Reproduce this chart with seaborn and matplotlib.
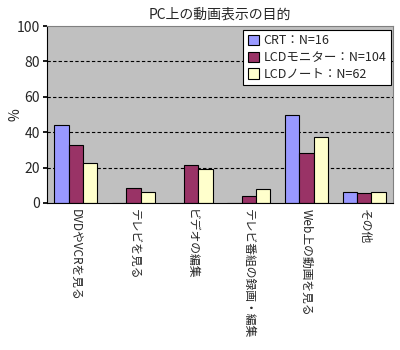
import matplotlib
matplotlib.use("Agg")
import matplotlib.pyplot as plt
import seaborn as sns
import pandas as pd

categories = ["DVDやVCRを見る", "テレビを見る", "ビデオの編集", "テレビ番組の録画・編集", "Web上の動画を見る", "その他"]
series = ["CRT：N=16", "LCDモニター：N=104", "LCDノート：N=62"]
crt = [44, 0, 0, 0, 50, 6.2]
lcd_monitor = [32.6, 8.4, 21.4, 3.9, 28.1, 5.6]
lcd_note = [22.5, 6.2, 19.1, 7.9, 37.1, 6.2]
yticks = [0, 20, 40, 60, 80, 100]

rows = []
for s, vals in zip(series, [crt, lcd_monitor, lcd_note]):
    for c, v in zip(categories, vals):
        rows.append({"cat": c, "series": s, "value": v})
df = pd.DataFrame(rows)

sns.set_theme(style="white")
plt.rcParams['font.family'] = ['Noto Sans CJK JP', 'DejaVu Sans']

fig = plt.figure(figsize=(4, 3.5), dpi=100)
ax = fig.add_axes([47/400, 1-203/350, 346/400, 177/350])
palette = ["#9999FF", "#993366", "#FFFFCC"]
sns.barplot(data=df, x="cat", y="value", hue="series", order=categories,
            hue_order=series, palette=palette, width=0.75, gap=0,
            edgecolor="black", linewidth=0.8, saturation=1, ax=ax, errorbar=None)

ax.set_facecolor("#C0C0C0")
ax.set_ylim(0, 100)
ax.set_xlim(-0.5, 5.5)
ax.set_yticks(yticks)
ax.set_yticklabels([str(t) for t in yticks], fontsize=10)
for t in yticks[1:-1]:
    ax.axhline(t, color="black", linestyle=(0, (3, 2)), linewidth=0.8, zorder=0.5)
ax.set_axisbelow(True)
ax.set_xlabel("")
ax.set_ylabel("%", fontsize=10)
ax.yaxis.set_label_coords(-0.07, 0.5)
ax.set_xticks(range(len(categories)))
ax.set_xticklabels(categories, rotation=270, fontsize=8.5, va="top", ha="center")
ax.tick_params(axis="x", length=0, pad=4)
ax.tick_params(axis="y", length=3, direction="out", left=True, pad=2, color="black")
for side in ["top", "right"]:
    ax.spines[side].set_color("#808080")
    ax.spines[side].set_linewidth(0.8)
for side in ["left", "bottom"]:
    ax.spines[side].set_color("black")
    ax.spines[side].set_linewidth(0.8)

ax.set_title("PC上の動画表示の目的", fontsize=10, pad=5)

leg = ax.legend(loc="upper right", bbox_to_anchor=(391/400, 1-30/350), bbox_transform=fig.transFigure,
                frameon=True, fancybox=False, framealpha=1, fontsize=9, handlelength=0.9, handleheight=0.9,
                handletextpad=0.4, borderpad=0.35, labelspacing=0.3, borderaxespad=0)
leg.get_frame().set_edgecolor("black")
leg.get_frame().set_facecolor("white")
leg.get_frame().set_linewidth(0.8)

fig.savefig("out.png", dpi=100, facecolor="white")
